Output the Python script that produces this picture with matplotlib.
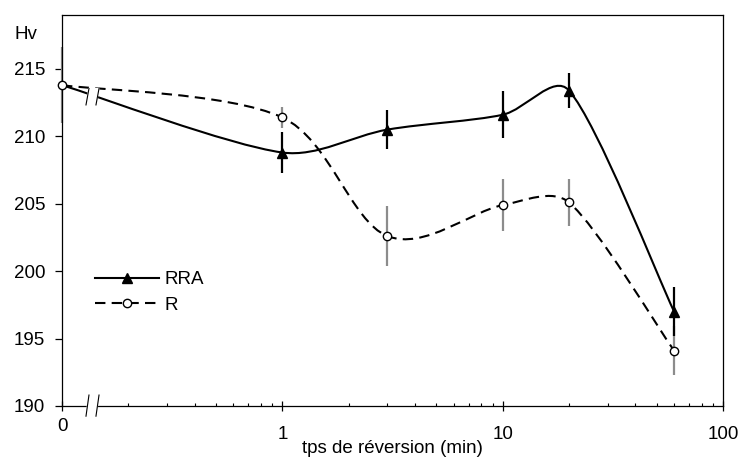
import numpy as np
import matplotlib
matplotlib.use('Agg')
import matplotlib.pyplot as plt
from matplotlib.path import Path
from matplotlib.patches import PathPatch
from matplotlib.lines import Line2D
from matplotlib.ticker import FixedLocator, NullFormatter, LogLocator

plt.rcParams['font.family'] = ['Liberation Sans', 'DejaVu Sans']

# reversion time (min), 0 is drawn at the left end of the broken log axis
times = np.array([0, 1, 3, 10, 20, 60])
hv_rra = np.array([213.8, 208.8, 210.5, 211.6, 213.4, 197.0])
err_rra = np.array([0.0, 1.55, 1.45, 1.75, 1.3, 1.8])
hv_r = np.array([213.8, 211.4, 202.6, 204.9, 205.1, 194.1])
err_r = np.array([2.8, 0.75, 2.2, 1.9, 1.75, 1.8])
series_labels = ['RRA', 'R']

X_ZERO = 0.1
X_MAX = 100
Y_MIN, Y_MAX = 190, 219
x_pos = np.where(times == 0, X_ZERO, times).astype(float)

fig = plt.figure(figsize=(7.44, 4.59), dpi=100)
ax = fig.add_axes([62 / 744, 1 - 406 / 459, (723 - 62) / 744, (406 - 15) / 459])
ax.set_xscale('log')
ax.set_xlim(X_ZERO, X_MAX)
ax.set_ylim(Y_MIN, Y_MAX)

# pixel scale, so the smoothing is done on screen geometry
bb = ax.get_window_extent()
sx = bb.width / np.log10(X_MAX / X_ZERO)
sy = bb.height / (Y_MAX - Y_MIN)


def smooth_path(xs, ys, frac=0.33):
    pts = np.column_stack([np.log10(xs) * sx, ys * sy])
    n = len(pts)
    verts = [pts[0]]
    codes = [Path.MOVETO]
    for i in range(n - 1):
        p0 = pts[i - 1] if i > 0 else pts[i]
        p1 = pts[i]
        p2 = pts[i + 1]
        p3 = pts[i + 2] if i + 2 < n else pts[i + 1]
        chord = np.hypot(*(p2 - p1))
        t1 = (p2 - p0) / 6
        t2 = (p3 - p1) / 6
        l1, l2 = np.hypot(*t1), np.hypot(*t2)
        if l1 > chord * frac:
            t1 = t1 * chord * frac / l1
        if l2 > chord * frac:
            t2 = t2 * chord * frac / l2
        verts += [p1 + t1, p2 - t2, p2]
        codes += [Path.CURVE4] * 3
    verts = np.array(verts)
    verts[:, 0] = 10 ** (verts[:, 0] / sx)
    verts[:, 1] = verts[:, 1] / sy
    return Path(verts, codes)


# error bars
ax.errorbar(x_pos, hv_r, yerr=err_r, fmt='none', ecolor='#8c8c8c',
            elinewidth=1.6, capsize=0, zorder=2, clip_on=False)
ax.errorbar(x_pos[1:], hv_rra[1:], yerr=err_rra[1:], fmt='none', ecolor='black',
            elinewidth=1.6, capsize=0, zorder=3)

# smoothed curves
ax.add_patch(PathPatch(smooth_path(x_pos, hv_rra), fill=False, edgecolor='black',
                       linewidth=1.5, zorder=4))
ax.add_patch(PathPatch(smooth_path(x_pos, hv_r), fill=False, edgecolor='black',
                       linewidth=1.5, linestyle=(0, (5, 3)), zorder=4))

# markers
ax.plot(x_pos[1:], hv_rra[1:], linestyle='none', marker='^', ms=6.5,
        color='black', zorder=5)
ax.plot(x_pos, hv_r, linestyle='none', marker='o', ms=6, mfc='white',
        mec='black', mew=1, zorder=6, clip_on=False)

# axes styling
for sp in ax.spines.values():
    sp.set_linewidth(0.9)
ax.set_yticks([190, 195, 200, 205, 210, 215])
ax.tick_params(axis='y', direction='out', length=5, width=0.9, pad=7, labelsize=13.5)
ax.xaxis.set_major_locator(FixedLocator([X_ZERO, 1, 10, 100]))
ax.set_xticklabels(['', '1', '10', '100'])
ax.xaxis.set_minor_locator(LogLocator(base=10, subs=np.arange(2, 10)))
ax.xaxis.set_minor_formatter(NullFormatter())
ax.tick_params(axis='x', which='major', direction='inout', length=7, width=0.9,
               pad=11, labelsize=13.5)
ax.tick_params(axis='x', which='minor', direction='in', length=2.5, width=0.8)
ax.text(X_ZERO, -0.03, '0', transform=ax.get_xaxis_transform(), ha='center',
        va='top', fontsize=13.5)

ax.set_xlabel('tps de réversion (min)', fontsize=13.5)
ax.xaxis.set_label_coords(0.5, -0.088)
ax.text(-0.054, 0.949, 'Hv', transform=ax.transAxes, ha='center', va='center',
        fontsize=13.5)


# axis break marks
def break_mark(y0, y1):
    xs = [0.0408, 0.0363, 0.0514, 0.0560]
    ax.fill(xs, [y0, y1, y1, y0], color='white',
            transform=ax.transAxes, clip_on=False, zorder=7)
    for a, b in [(xs[0], xs[1]), (xs[3], xs[2])]:
        ax.plot([a, b], [y0, y1], color='black', lw=0.8, transform=ax.transAxes,
                clip_on=False, zorder=8)


break_mark(0.028, -0.026)
break_mark(0.812, 0.770)

# legend
handles = [Line2D([], [], color='black', lw=1.5, marker='^', ms=6.5),
           Line2D([], [], color='black', lw=1.5, linestyle=(0, (5, 3)), marker='o',
                  ms=6, mfc='white', mec='black', mew=1)]
ax.legend(handles, series_labels, loc='upper left', bbox_to_anchor=(0.05, 0.345),
          frameon=False, fontsize=13.5, handlelength=3.4, handletextpad=0.3,
          labelspacing=0.45, borderpad=0, borderaxespad=0)

fig.savefig('out.png', dpi=100)
